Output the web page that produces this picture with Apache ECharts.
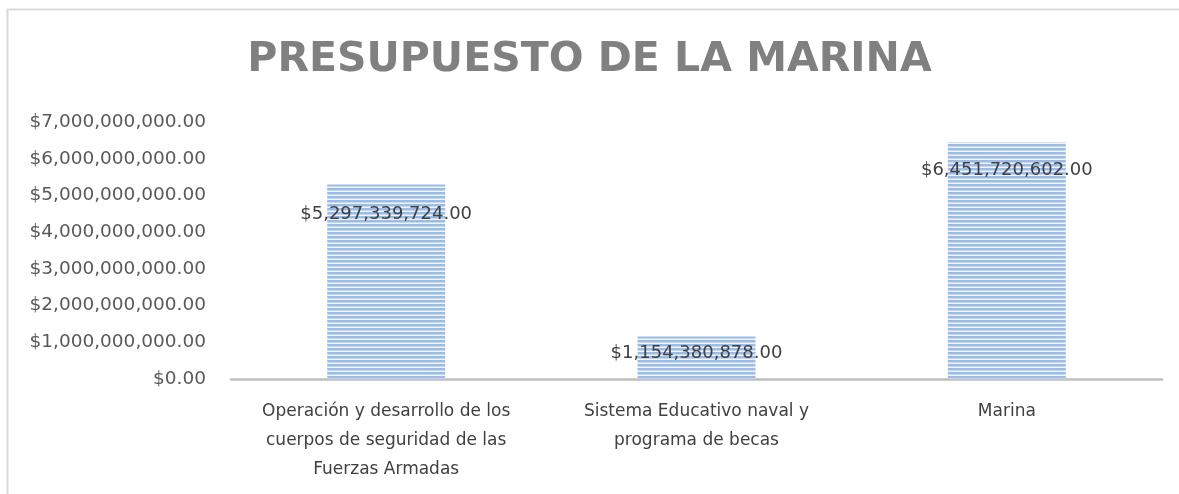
<!DOCTYPE html>
<html>
<head>
<meta charset="utf-8">
<script src="https://cdn.jsdelivr.net/npm/echarts@6/dist/echarts.min.js"></script>
<style>
html,body{margin:0;padding:0;background:#fff;}
#chart{width:1179px;height:494px;}
</style>
</head>
<body>
<div id="chart"></div>
<script>
var titleText = 'PRESUPUESTO DE LA MARINA';
var categories = [
  'Operación y desarrollo de los\ncuerpos de seguridad de las\nFuerzas Armadas',
  'Sistema Educativo naval y\nprograma de becas',
  'Marina'
];
var values = [5297339724, 1154380878, 6451720602];
var yMin = 0, yMax = 7000000000, yStep = 1000000000;

// label inner distances (styling)
var labelDistances = [21, 8, 19];

function money(v) {
  var parts = v.toFixed(2).split('.');
  parts[0] = parts[0].replace(/\B(?=(\d{3})+(?!\d))/g, ',');
  return '$' + parts.join('.');
}

var pc = document.createElement('canvas');
pc.width = 4; pc.height = 4;
var ctx = pc.getContext('2d');
ctx.fillStyle = '#9cbce6'; ctx.fillRect(0, 0, 4, 2);
ctx.fillStyle = '#c4d8f1'; ctx.fillRect(0, 2, 4, 1);
ctx.fillStyle = '#eef4fb'; ctx.fillRect(0, 3, 4, 1);

var chart = echarts.init(document.getElementById('chart'), null, {renderer: 'canvas'});
var font = 'DejaVu Sans';
chart.setOption({
  animation: false,
  backgroundColor: '#ffffff',
  title: {
    text: titleText,
    left: 'center',
    top: 35,
    textStyle: {fontFamily: font, fontWeight: 'bold', fontSize: 41, color: '#808080'}
  },
  graphic: [{
    type: 'polyline', silent: true,
    shape: {points: [[7.5, 600], [7.5, 9.5], [1300, 9.5]]},
    style: {fill: null, stroke: '#d9d9d9', lineWidth: 2}
  }],
  grid: {left: 231, right: 17, top: 122, bottom: 115, containLabel: false},
  xAxis: {
    type: 'category',
    data: categories,
    axisLine: {show: true, lineStyle: {color: '#bfbfbf', width: 2.5}},
    axisTick: {show: false},
    axisLabel: {fontFamily: font, fontSize: 17, color: '#404040', lineHeight: 29, margin: 18, interval: 0}
  },
  yAxis: {
    type: 'value',
    min: yMin, max: yMax, interval: yStep,
    splitLine: {show: false},
    axisLine: {show: false},
    axisTick: {show: false},
    axisLabel: {fontFamily: font, fontSize: 18.5, color: '#595959', margin: 25, formatter: function (v) { return money(v); }}
  },
  series: [{
    type: 'bar',
    barWidth: '38%',
    data: values.map(function (v, i) {
      return {value: v, label: {distance: labelDistances[i]}};
    }),
    itemStyle: {color: {image: pc, repeat: 'repeat'}},
    label: {
      show: true,
      position: 'insideTop',
      fontFamily: font, fontSize: 18, color: '#404040',
      formatter: function (p) { return money(p.value); }
    }
  }]
});
</script>
</body>
</html>
